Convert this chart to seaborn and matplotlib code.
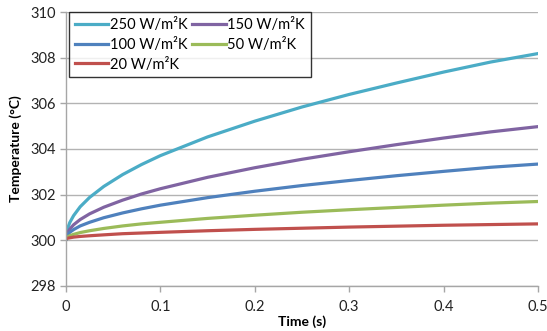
import matplotlib
matplotlib.use("Agg")
import matplotlib.pyplot as plt
import seaborn as sns
import pandas as pd

time_s = [0, 0.0005, 0.0015, 0.004, 0.008, 0.015, 0.025, 0.04, 0.06, 0.08, 0.1, 0.15, 0.2, 0.25, 0.3, 0.35, 0.4, 0.45, 0.5]
t_250 = [300.05, 300.31, 300.50, 300.78, 301.08, 301.47, 301.88, 302.36, 302.88, 303.32, 303.71, 304.53, 305.22, 305.84, 306.39, 306.89, 307.37, 307.81, 308.18]
t_150 = [300.05, 300.21, 300.32, 300.49, 300.68, 300.91, 301.16, 301.45, 301.76, 302.03, 302.26, 302.76, 303.18, 303.55, 303.88, 304.19, 304.48, 304.75, 304.98]
t_100 = [300.05, 300.15, 300.23, 300.35, 300.47, 300.63, 300.79, 300.99, 301.20, 301.38, 301.54, 301.87, 302.15, 302.40, 302.62, 302.83, 303.02, 303.20, 303.34]
t_50 = [300.05, 300.10, 300.14, 300.20, 300.26, 300.34, 300.42, 300.52, 300.63, 300.72, 300.79, 300.96, 301.10, 301.23, 301.34, 301.44, 301.54, 301.63, 301.70]
t_20 = [300.05, 300.07, 300.09, 300.11, 300.14, 300.17, 300.20, 300.24, 300.29, 300.32, 300.35, 300.42, 300.48, 300.53, 300.58, 300.62, 300.66, 300.69, 300.72]
labels = ["250 W/m²K", "150 W/m²K", "100 W/m²K", "50 W/m²K", "20 W/m²K"]
colors = ["#4BACC6", "#8064A2", "#4F81BD", "#9BBB59", "#C0504D"]
x_ticks = [0, 0.1, 0.2, 0.3, 0.4, 0.5]
x_tick_labels = ["0", "0.1", "0.2", "0.3", "0.4", "0.5"]
y_ticks = [298, 300, 302, 304, 306, 308, 310]

series = [t_250, t_150, t_100, t_50, t_20]
rows = []
for lab, vals in zip(labels, series):
    for t, v in zip(time_s, vals):
        rows.append({"Time": t, "Temp": v, "h": lab})
df = pd.DataFrame(rows)

plt.rcParams['font.family'] = ['Lato', 'DejaVu Sans']

fig = plt.figure(figsize=(5.47, 3.31), dpi=100)
ax = fig.add_axes([0.1207, 0.136, 0.8628, 0.8277])

sns.lineplot(data=df, x="Time", y="Temp", hue="h", hue_order=labels,
             palette=dict(zip(labels, colors)), linewidth=2.3, ax=ax, legend=True)

ax.set_xlim(0, 0.5)
ax.set_ylim(298, 310)
ax.set_xticks(x_ticks)
ax.set_xticklabels(x_tick_labels)
ax.set_yticks(y_ticks)
ax.yaxis.grid(True, color="#b3b3b3", linewidth=1.0)
ax.set_axisbelow(True)
for s in ["top", "right"]:
    ax.spines[s].set_visible(False)
for s in ["left", "bottom"]:
    ax.spines[s].set_color("#a6a6a6")
    ax.spines[s].set_linewidth(1.0)
ax.tick_params(axis="both", colors="#a6a6a6", labelcolor="#222222", labelsize=10.5, length=4, width=1)
ax.tick_params(axis="x", pad=6)

ax.set_xlabel("Time (s)", fontsize=10, fontweight="bold", labelpad=1)
ax.set_ylabel("Temperature (°C)", fontsize=10, fontweight="bold", labelpad=6)

handles, labs = ax.get_legend_handles_labels()
hmap = dict(zip(labs, handles))
order = ["250 W/m²K", "100 W/m²K", "20 W/m²K", "150 W/m²K", "50 W/m²K"]
leg = ax.legend([hmap[o] for o in order], order, ncol=2, loc="upper left",
                bbox_to_anchor=(0.006, 1.0), borderaxespad=0, frameon=True,
                fancybox=False, edgecolor="black", fontsize=10.5,
                handlelength=2.3, handletextpad=0.1, columnspacing=0.35,
                labelspacing=0.4, borderpad=0.4)
leg.get_frame().set_linewidth(1.0)

fig.savefig("out.png", dpi=100)
